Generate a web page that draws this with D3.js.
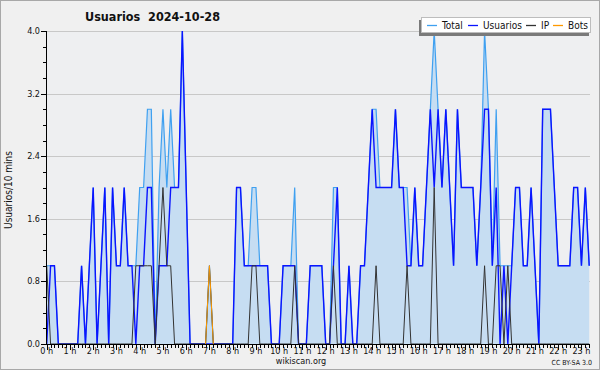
<!DOCTYPE html>
<html>
<head>
<meta charset="utf-8">
<script src="https://cdn.jsdelivr.net/npm/d3@7"></script>
<style>
    body { margin: 0; background: #f0f0f0; }
    text { font-family: "DejaVu Sans Condensed", "DejaVu Sans", sans-serif; fill: #111; }
    .grid line { stroke: #c8c8c8; stroke-width: 1; }
    .axis line, .axis path { stroke: #000; shape-rendering: crispEdges; }
</style>
</head>
<body>
<svg id="chart"></svg>
<script>
    // values per 10 minutes, 0h00 .. 23h20
    var usuarios = [
        0,1,1,0,0,0,0,0,0,1,0,1,
        2,0,1,2,0,2,1,1,2,1,1,0,
        1,1,2,2,0,1,1,1,2,2,2,4,
        2,0,0,0,0,0,0,0,0,0,0,0,
        0,2,2,1,1,1,1,1,1,1,0,0,
        0,1,1,1,1,0,0,0,1,1,1,1,
        0,0,1,2,0,0,1,0,0,1,1,2,
        3,2,2,2,2,2,3,2,2,1,1,2,
        1,1,2,3,2,3,2,3,2,1,3,2,
        2,2,2,1,2,3,3,1,2,0,1,0,
        1,2,2,1,1,2,1,0,3,3,3,2,
        1,1,1,1,2,2,1,2,1
    ];
    var ip = [
        1,0,0,0,0,0,0,0,0,0,0,0,
        0,0,0,0,0,0,0,0,0,0,0,1,
        1,1,1,1,0,1,2,1,1,0,0,0,
        0,0,0,0,0,0,1,0,0,0,0,0,
        0,0,0,0,0,1,1,0,0,0,0,0,
        0,0,0,0,1,0,0,0,0,0,0,0,
        0,0,1,0,0,0,0,0,0,0,0,0,
        0,1,0,0,0,0,0,0,0,1,0,0,
        0,0,0,0,2,0,0,0,0,0,0,0,
        0,0,0,0,0,1,0,0,1,1,0,1,
        0,0,0,0,0,0,0,0,0,0,0,0,
        0,0,0,0,0,0,0,0,0
    ];
    var bots = [
        0,0,0,0,0,0,0,0,0,0,0,0,
        0,0,0,0,0,0,0,0,0,0,0,0,
        0,0,0,0,0,0,0,0,0,0,0,0,
        0,0,0,0,0,0,1,0,0,0,0,0,
        0,0,0,0,0,0,0,0,0,0,0,0,
        0,0,0,0,0,0,0,0,0,0,0,0,
        0,0,0,0,0,0,0,0,0,0,0,0,
        0,0,0,0,0,0,0,0,0,0,0,0,
        0,0,0,0,0,0,0,0,0,0,0,0,
        0,0,0,0,0,0,0,0,0,0,0,0,
        0,0,0,0,0,0,0,0,0,0,0,0,
        0,0,0,0,0,0,0,0,0
    ];
    var total = [
        1,1,1,0,0,0,0,0,0,1,0,1,
        2,0,1,2,0,2,1,1,2,1,1,1,
        2,2,3,3,0,2,3,2,3,2,2,4,
        2,0,0,0,0,0,1,0,0,0,0,0,
        0,2,2,1,1,2,2,1,1,1,0,0,
        0,1,1,1,2,0,0,0,1,1,1,1,
        0,0,2,2,0,0,1,0,0,1,1,2,
        3,3,2,2,2,2,3,2,2,2,1,2,
        1,1,2,3,4,3,2,3,2,1,3,2,
        2,2,2,1,2,4,3,1,3,1,1,1,
        1,2,2,1,1,2,1,0,3,3,3,2,
        1,1,1,1,2,2,1,2,1
    ];
    var yTicks = [0, 0.8, 1.6, 2.4, 3.2, 4.0];
    var hours = d3.range(24);
    var legendItems = [
        { name: 'Total', color: '#3fa0f0' },
        { name: 'Usuarios', color: '#0a14ff' },
        { name: 'IP', color: '#333333' },
        { name: 'Bots', color: '#ff9900' }
    ];

    var width = 600, height = 370;
    var svg = d3.select('#chart').attr('width', width).attr('height', height);

    // outer frame
    svg.append('rect')
        .attr('x', 0.5).attr('y', 0.5)
        .attr('width', width - 1).attr('height', height - 1)
        .attr('fill', '#f0f0f0').attr('stroke', '#a8a8a8');

    var plotLeft = 46.7, plotRight = 589.2, plotTop = 31, plotBottom = 344;
    var x = d3.scaleLinear().domain([0, total.length - 1]).range([plotLeft, plotRight]);
    var y = d3.scaleLinear().domain([0, 4]).range([plotBottom, plotTop]);

    // plot background
    svg.append('rect')
        .attr('x', plotLeft).attr('y', plotTop)
        .attr('width', 590 - plotLeft).attr('height', plotBottom - plotTop)
        .attr('fill', '#eeeff1');

    // grid
    svg.append('g').attr('class', 'grid')
        .selectAll('line')
        .data(yTicks.slice(1))
        .join('line')
        .attr('x1', plotLeft).attr('x2', 590)
        .attr('y1', function (d) { return Math.round(y(d)) + 0.5; })
        .attr('y2', function (d) { return Math.round(y(d)) + 0.5; });

    // total area + lines
    svg.append('path')
        .datum(total)
        .attr('fill', '#c6ddf2')
        .attr('d', d3.area().x(function (d, i) { return x(i); }).y0(plotBottom).y1(function (d) { return y(d); }));

    var line = d3.line().x(function (d, i) { return x(i); }).y(function (d) { return y(d); });

    svg.append('path').datum(total)
        .attr('fill', 'none').attr('stroke', '#3fa0f0').attr('stroke-width', 1.2)
        .attr('d', line);
    svg.append('path').datum(usuarios)
        .attr('fill', 'none').attr('stroke', '#0a14ff').attr('stroke-width', 1.4)
        .attr('d', line);
    svg.append('path').datum(ip)
        .attr('fill', 'none').attr('stroke', '#333333').attr('stroke-width', 1)
        .attr('d', line);
    svg.append('path').datum(bots)
        .attr('fill', 'none').attr('stroke', '#ff9900').attr('stroke-width', 1)
        .attr('d', function (d) {
            // only draw the bots line where it is non zero, with its neighbours
            var idx = [];
            d.forEach(function (v, i) { if (v > 0) idx.push(i); });
            return idx.map(function (i) {
                return 'M' + x(i - 1) + ',' + y(d[i - 1]) + 'L' + x(i) + ',' + y(d[i]) + 'L' + x(i + 1) + ',' + y(d[i + 1]);
            }).join('');
        });

    // y axis
    var yAxis = svg.append('g').attr('class', 'axis')
        .attr('transform', 'translate(' + (Math.floor(plotLeft) + 0.5) + ',0)')
        .call(d3.axisLeft(y).tickValues(d3.range(0, 4.01, 0.2)).tickSize(4).tickFormat(''));
    yAxis.select('.domain').attr('d', 'M0,' + plotBottom + 'V' + plotTop);
    yAxis.selectAll('.tick line')
        .attr('x2', function (d) { return Math.abs(d / 0.8 - Math.round(d / 0.8)) < 1e-6 ? -6 : -4; });
    svg.append('g')
        .selectAll('text')
        .data(yTicks)
        .join('text')
        .attr('x', 40).attr('y', function (d) { return y(d) + 3; })
        .attr('text-anchor', 'end')
        .attr('font-size', 9)
        .text(function (d) { return d.toFixed(1); });

    // x axis
    var xAxis = svg.append('g').attr('class', 'axis')
        .attr('transform', 'translate(0,' + (plotBottom + 0.5) + ')')
        .call(d3.axisBottom(x).tickValues(d3.range(0, 141)).tickSize(3).tickFormat(''));
    xAxis.select('.domain').attr('d', 'M' + plotLeft + ',0H590');
    xAxis.selectAll('.tick line')
        .attr('y2', function (d) { return d % 6 === 0 ? 5 : 3; });
    svg.append('g')
        .selectAll('text')
        .data(hours)
        .join('text')
        .attr('x', function (d) { return x(d * 6); })
        .attr('y', 354)
        .attr('text-anchor', 'middle')
        .attr('font-size', 9)
        .text(function (d) { return d + ' h'; });

    // titles
    svg.append('text')
        .attr('x', 85).attr('y', 21)
        .attr('font-size', 12.5).attr('font-weight', 'bold')
        .attr('xml:space', 'preserve')
        .text('Usuarios  2024-10-28');

    svg.append('text')
        .attr('transform', 'translate(12,190) rotate(-90)')
        .attr('text-anchor', 'middle')
        .attr('font-size', 10)
        .text('Usuarios/10 mins');

    svg.append('text')
        .attr('x', 301).attr('y', 364)
        .attr('text-anchor', 'middle')
        .attr('font-size', 9)
        .text('wikiscan.org');

    svg.append('text')
        .attr('x', 592).attr('y', 365)
        .attr('text-anchor', 'end')
        .attr('font-size', 7)
        .text('CC BY-SA 3.0');

    // legend
    var lg = svg.append('g');
    lg.append('rect')
        .attr('x', 419).attr('y', 20).attr('width', 170).attr('height', 16)
        .attr('fill', '#7a7a7a');
    lg.append('rect')
        .attr('x', 421.5).attr('y', 17.5).attr('width', 169).attr('height', 15)
        .attr('fill', '#fff').attr('stroke', '#bdbdbd');
    var legendX = [427, 468, 526, 553];
    var items = lg.selectAll('g.item')
        .data(legendItems)
        .join('g')
        .attr('class', 'item')
        .attr('transform', function (d, i) { return 'translate(' + legendX[i] + ',25)'; });
    items.append('path')
        .attr('d', 'M0,0.5H10')
        .style('stroke', function (d) { return d.color; })
        .style('stroke-width', 1.3)
        .style('fill', 'none');
    items.append('text')
        .attr('x', 15).attr('y', 3.5)
        .attr('font-size', 10)
        .text(function (d) { return d.name; });
</script>
</body>
</html>
